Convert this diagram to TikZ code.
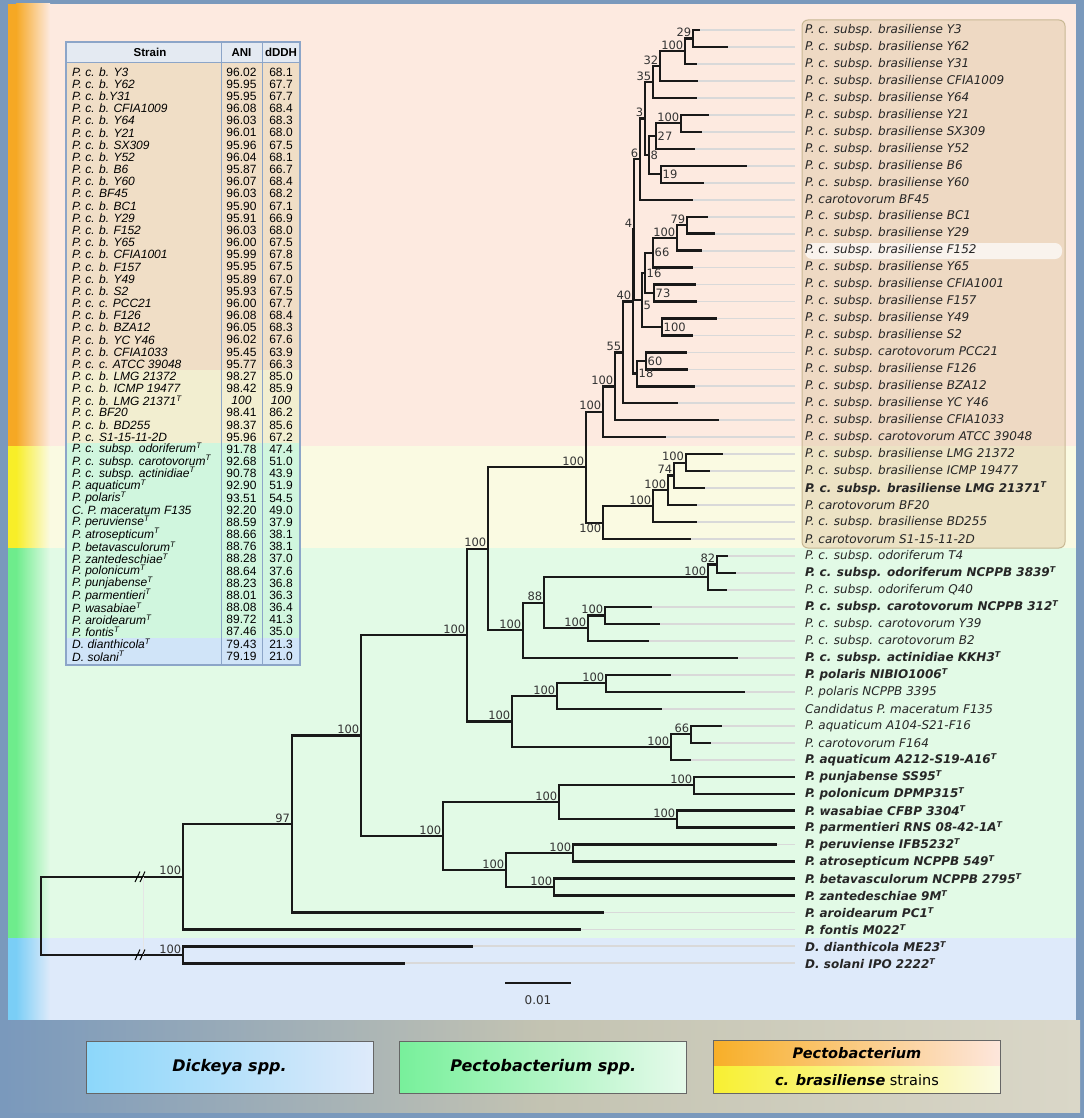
\documentclass[tikz,border=0pt]{standalone}
\usepackage{fontspec}
\setsansfont{DejaVu Sans}
\newfontfamily\tabfont{Liberation Sans}
\usepackage{tikz}
\usetikzlibrary{positioning}
\definecolor{frameblue}{RGB}{122,153,188}
\definecolor{bandpink}{RGB}{253,234,224}
\definecolor{bandyel}{RGB}{250,250,226}
\definecolor{bandgrn}{RGB}{226,250,230}
\definecolor{bandblu}{RGB}{222,234,250}
\definecolor{stripeor}{RGB}{246,168,36}
\definecolor{stripeye}{RGB}{248,238,40}
\definecolor{stripegr}{RGB}{110,236,140}
\definecolor{stripebl}{RGB}{122,206,246}
\definecolor{boxtan}{RGB}{220,198,160}
\definecolor{boxedge}{RGB}{200,184,148}
\definecolor{tabhead}{RGB}{228,234,242}
\definecolor{tabtan}{RGB}{240,222,198}
\definecolor{tabyel}{RGB}{242,238,208}
\definecolor{tabgrn}{RGB}{208,246,222}
\definecolor{tabblu}{RGB}{208,228,248}
\definecolor{tabline}{RGB}{140,165,200}
\definecolor{legA}{RGB}{140,215,250}
\definecolor{legB}{RGB}{222,234,250}
\definecolor{legC}{RGB}{120,240,155}
\definecolor{legD}{RGB}{230,250,235}
\definecolor{legE}{RGB}{248,175,40}
\definecolor{legF}{RGB}{253,230,220}
\definecolor{legG}{RGB}{248,240,50}
\definecolor{legH}{RGB}{250,250,225}
\newcommand\legfont{\sffamily\bfseries\itshape\fontsize{16}{19}\selectfont}
\tikzset{br/.style={line width=2.3pt,black!90},
  leader/.style={line width=1.8pt,black!15},
  leaf/.style={anchor=west,inner sep=0pt,text=black!85,font=\sffamily\itshape\fontsize{12}{12}\selectfont},
  typeleaf/.style={leaf,font=\sffamily\bfseries\itshape\fontsize{12}{12}\selectfont},
  supp/.style={inner sep=1.5pt,text=black!80,font=\sffamily\fontsize{11.5}{11.5}\selectfont},
  tabtxt/.style={inner sep=0pt,font=\tabfont\itshape\fontsize{12}{12}\selectfont},
  tabnum/.style={inner sep=0pt,font=\tabfont\fontsize{12}{12}\selectfont},
  tabhd/.style={inner sep=0pt,font=\tabfont\bfseries\fontsize{11.5}{11.5}\selectfont},
  legbox/.style={minimum width=287pt,minimum height=52pt,inner sep=0pt}}

\begin{document}
\begin{tikzpicture}[x=1pt,y=-1pt]
\useasboundingbox (0,0) rectangle (1084,1118);
\fill[frameblue] (0,0) rectangle (1084,1118);
% 背景色带
\fill[bandpink] (8,4) rectangle (1076,446);
\fill[bandyel] (8,446) rectangle (1076,548);
\fill[bandgrn] (8,548) rectangle (1076,938);
\fill[bandblu] (8,938) rectangle (1076,1020);
\fill[stripeor] (8,4) rectangle (16,446);
\shade[left color=stripeor,right color=bandpink] (16,4) rectangle (50,446);
\fill[stripeye] (8,446) rectangle (16,548);
\shade[left color=stripeye,right color=bandyel] (16,446) rectangle (50,548);
\fill[stripegr] (8,548) rectangle (16,938);
\shade[left color=stripegr,right color=bandgrn] (16,548) rectangle (50,938);
\fill[stripebl] (8,938) rectangle (16,1020);
\shade[left color=stripebl,right color=bandblu] (16,938) rectangle (50,1020);
\shade[left color=frameblue,right color={rgb,255:red,218;green,215;blue,200},middle color={rgb,255:red,195;green,195;blue,178}] (4,1020) rectangle (1080,1112);

% 标签框
\fill[boxtan,opacity=0.45,rounded corners=6pt] (802,20) rectangle (1065,548);
\draw[boxedge,line width=1pt,rounded corners=6pt] (802,20) rectangle (1065,548);
\fill[white,opacity=0.7,rounded corners=7pt] (805,243) rectangle (1062,259);

% 叶子
\foreach \i/\tx/\lab in {0/700/P. c. subsp. brasiliense Y3, 1/728/P. c. subsp. brasiliense Y62,
  2/697/P. c. subsp. brasiliense Y31, 3/698/P. c. subsp. brasiliense CFIA1009,
  4/697/P. c. subsp. brasiliense Y64, 5/709/P. c. subsp. brasiliense Y21,
  6/702/P. c. subsp. brasiliense SX309, 7/695/P. c. subsp. brasiliense Y52,
  8/747/P. c. subsp. brasiliense B6, 9/704/P. c. subsp. brasiliense Y60,
  10/693/P. carotovorum BF45, 11/708/P. c. subsp. brasiliense BC1,
  12/715/P. c. subsp. brasiliense Y29, 13/702/P. c. subsp. brasiliense F152,
  14/693/P. c. subsp. brasiliense Y65, 15/696/P. c. subsp. brasiliense CFIA1001,
  16/697/P. c. subsp. brasiliense F157, 17/717/P. c. subsp. brasiliense Y49,
  18/693/P. c. subsp. brasiliense S2, 19/687/P. c. subsp. carotovorum PCC21,
  20/688/P. c. subsp. brasiliense F126, 21/695/P. c. subsp. brasiliense BZA12,
  22/678/P. c. subsp. brasiliense YC Y46, 23/719/P. c. subsp. brasiliense CFIA1033,
  24/666/P. c. subsp. carotovorum ATCC 39048, 25/723/P. c. subsp. brasiliense LMG 21372,
  26/710/P. c. subsp. brasiliense ICMP 19477, 28/697/P. carotovorum BF20,
  29/697/P. c. subsp. brasiliense BD255, 30/691/P. carotovorum S1-15-11-2D,
  31/728/P. c. subsp. odoriferum T4, 33/727/P. c. subsp. odoriferum Q40,
  35/660/P. c. subsp. carotovorum Y39, 36/649/P. c. subsp. carotovorum B2,
  39/745/P. polaris NCPPB 3395, 40/662/Candidatus P. maceratum F135,
  41/722/P. aquaticum A104-S21-F16, 42/711/P. carotovorum F164}{
  \pgfmathsetmacro\yy{30+16.97*\i}
  \coordinate (t\i) at (\tx,\yy);
  \coordinate (e\i) at (795,\yy);
  \draw[leader] (t\i) -- (e\i);
  \node[leaf] (s\i) at (805,\yy) {\lab};
}
\foreach \i/\tx/\lab in {27/705/P. c. subsp. brasiliense LMG 21371,
  32/736/P. c. subsp. odoriferum NCPPB 3839, 34/652/P. c. subsp. carotovorum NCPPB 312,
  37/738/P. c. subsp. actinidiae KKH3, 38/671/P. polaris NIBIO1006,
  43/691/P. aquaticum A212-S19-A16, 44/795/P. punjabense SS95,
  45/795/P. polonicum DPMP315, 46/795/P. wasabiae CFBP 3304,
  47/795/P. parmentieri RNS 08-42-1A, 48/777/P. peruviense IFB5232,
  49/795/P. atrosepticum NCPPB 549, 50/795/P. betavasculorum NCPPB 2795,
  51/795/P. zantedeschiae 9M, 52/604/P. aroidearum PC1, 53/581/P. fontis M022,
  54/473/D. dianthicola ME23, 55/405/D. solani IPO 2222}{
  \pgfmathsetmacro\yy{30+16.97*\i}
  \coordinate (t\i) at (\tx,\yy);
  \coordinate (e\i) at (795,\yy);
  \draw[leader] (t\i) -- (e\i);
  \node[typeleaf] (s\i) at (805,\yy) {\lab\textsuperscript{T}};
}

% 内部节点
\coordinate (n29) at (693,38.5);
\coordinate (nA) at (685,51.2);
\coordinate (n32) at (660,66.1);
\coordinate (n35) at (653,82.0);
\coordinate (nB) at (681,123.3);
\coordinate (n27) at (656,136.1);
\coordinate (n19) at (661,174.2);
\coordinate (n8) at (649,155.2);
\coordinate (n3) at (645,118.6);
\coordinate (n6) at (640,159.1);
\coordinate (n79) at (687,225.2);
\coordinate (nC) at (677,237.9);
\coordinate (n66a) at (653,252.7);
\coordinate (n73) at (654,293.0);
\coordinate (n16) at (645,272.9);
\coordinate (nD) at (662,327.0);
\coordinate (n5) at (642,300.0);
\coordinate (n4) at (634,229.6);
\coordinate (n60) at (646,360.9);
\coordinate (n18) at (637,373.6);
\coordinate (n40) at (633,301.6);
\coordinate (n55) at (623,352.5);
\coordinate (n615) at (615,386.4);
\coordinate (n603) at (603,411.8);
\coordinate (n685) at (685.7,462.7);
\coordinate (n74) at (674,475.5);
\coordinate (n668) at (668,490.3);
\coordinate (n653) at (653,506.2);
\coordinate (nLMG) at (603,522.7);
\coordinate (n586) at (586,467.2);
\coordinate (n82) at (717,564.6);
\coordinate (nOd) at (708,577.3);
\coordinate (n605) at (605,615.5);
\coordinate (nCar) at (588,628.2);
\coordinate (n88) at (544,602.7);
\coordinate (n523) at (523,630.3);
\coordinate (n488) at (488,548.8);
\coordinate (nNI) at (606,683.3);
\coordinate (n557) at (557,696.1);
\coordinate (n66b) at (691,734.3);
\coordinate (n671) at (671,747.0);
\coordinate (n512) at (512,721.5);
\coordinate (n467) at (467,635.2);
\coordinate (n694) at (694,785.2);
\coordinate (n677) at (677,819.1);
\coordinate (n559) at (559,802.1);
\coordinate (n573) at (573,853.0);
\coordinate (n554) at (554,887.0);
\coordinate (n506) at (506,870.0);
\coordinate (n443) at (443,836.1);
\coordinate (n361) at (361,735.6);
\coordinate (n97) at (291.7,824.0);
\coordinate (n183) at (183,876.7);
\coordinate (nDk) at (183,954.9);
\coordinate (root) at (40.7,915.8);

% 画树枝
\foreach \p/\c in {n29/t0, n29/t1, nA/n29, nA/t2, n32/nA, n32/t3, n35/n32, n35/t4,
  nB/t5, nB/t6, n27/nB, n27/t7, n19/t8, n19/t9, n8/n27, n8/n19, n3/n35, n3/n8,
  n6/n3, n6/t10, n79/t11, n79/t12, nC/n79, nC/t13, n66a/nC, n66a/t14,
  n73/t15, n73/t16, n16/n66a, n16/n73, nD/t17, nD/t18, n5/n16, n5/nD,
  n4/n6, n4/n5, n60/t19, n60/t20, n18/n60, n18/t21, n40/n4, n40/n18,
  n55/n40, n55/t22, n615/n55, n615/t23, n603/n615, n603/t24,
  n685/t25, n685/t26, n74/n685, n74/t27, n668/n74, n668/t28, n653/n668, n653/t29,
  nLMG/n653, nLMG/t30, n586/n603, n586/nLMG,
  n82/t31, n82/t32, nOd/n82, nOd/t33, n605/t34, n605/t35, nCar/n605, nCar/t36,
  n88/nOd, n88/nCar, n523/n88, n523/t37, n488/n586, n488/n523,
  nNI/t38, nNI/t39, n557/nNI, n557/t40, n66b/t41, n66b/t42, n671/n66b, n671/t43,
  n512/n557, n512/n671, n467/n488, n467/n512,
  n694/t44, n694/t45, n677/t46, n677/t47, n559/n694, n559/n677,
  n573/t48, n573/t49, n554/t50, n554/t51, n506/n573, n506/n554,
  n443/n559, n443/n506, n361/n467, n361/n443, n97/n361, n97/t52,
  n183/n97, n183/t53, nDk/t54, nDk/t55, root/n183, root/nDk}
  \draw[br] (\p) |- (\c);

% 支持率
\foreach \n/\t in {n29/29, nA/100, n32/32, n35/35, nB/100, n3/3, n6/6, n79/79, nC/100,
  n4/4, n40/40, n55/55, n615/100, n603/100, n586/100, n685/100, n74/74, n668/100,
  n653/100, n488/100, n82/82, nOd/100, n88/88, n523/100, n605/100, nCar/100,
  nNI/100, n557/100, n66b/66, n671/100, n512/100, n467/100, n694/100, n677/100,
  n559/100, n573/100, n554/100, n506/100, n443/100, n361/100, n97/97, n183/100, nDk/100}
  \node[supp,anchor=south east] (l\n) at (\n) {\t};
\foreach \n/\t in {n27/27, n8/8, n19/19, n66a/66, n16/16, n73/73, nD/100, n60/60, n18/18}
  \node[supp,anchor=west] (l\n) at (\n) {\t};
\node[supp,anchor=west] (ln5) at ([yshift=-5pt]n5) {5};
\node[supp,anchor=north east] (lnLMG) at (nLMG) {100};

% 断开符号
\draw[black!10,line width=0.8pt] (143,877) -- (143,955);
\draw[line width=1pt] (135,882) -- (140,871.5) (140,882) -- (145,871.5);
\draw[line width=1pt] (135,960) -- (140,949.5) (140,960) -- (145,949.5);

% 标尺
\coordinate (sbA) at (505,983.3);
\coordinate (sbB) at (571,983.3);
\draw[br,line width=2pt] (sbA) -- (sbB);
\node[supp,font=\sffamily\fontsize{12}{12}\selectfont] (sbl) at (538,1000) {0.01};

% 表格
\fill[tabhead] (66,42) rectangle (300,62.5);
\fill[tabtan] (66,62.5) rectangle (300,370.2);
\fill[tabyel] (66,370.2) rectangle (300,443.2);
\fill[tabgrn] (66,443.2) rectangle (300,637.9);
\fill[tabblu] (66,637.9) rectangle (300,665);
\draw[tabline,line width=1.2pt] (66,42) rectangle (300,665);
\draw[tabline,line width=1pt] (221,42) -- (221,665) (262,42) -- (262,665) (66,62.5) -- (300,62.5);
\node[tabhd] (hs) at (150,52.5) {Strain};
\node[tabhd] (ha) at (241.5,52.5) {ANI};
\node[tabhd] (hd) at (281,52.5) {dDDH};
\foreach \s/\a/\d [count=\i from 0] in {P. c. b. Y3/96.02/68.1, P. c. b. Y62/95.95/67.7,
  P. c. b.Y31/95.95/67.7, P. c. b. CFIA1009/96.08/68.4, P. c. b. Y64/96.03/68.3,
  P. c. b. Y21/96.01/68.0, P. c. b. SX309/95.96/67.5, P. c. b. Y52/96.04/68.1,
  P. c. b. B6/95.87/66.7, P. c. b. Y60/96.07/68.4, P. c. BF45/96.03/68.2,
  P. c. b. BC1/95.90/67.1, P. c. b. Y29/95.91/66.9, P. c. b. F152/96.03/68.0,
  P. c. b. Y65/96.00/67.5, P. c. b. CFIA1001/95.99/67.8, P. c. b. F157/95.95/67.5,
  P. c. b. Y49/95.89/67.0, P. c. b. S2/95.93/67.5, P. c. c. PCC21/96.00/67.7,
  P. c. b. F126/96.08/68.4, P. c. b. BZA12/96.05/68.3, P. c. b. YC Y46/96.02/67.6,
  P. c. b. CFIA1033/95.45/63.9, P. c. c. ATCC 39048/95.77/66.3,
  P. c. b. LMG 21372/98.27/85.0, P. c. b. ICMP 19477/98.42/85.9,
  P. c. b. LMG 21371\textsuperscript{T}/\textit{100}/\textit{100},
  P. c. BF20/98.41/86.2, P. c. b. BD255/98.37/85.6, P. c. S1-15-11-2D/95.96/67.2,
  P. c. subsp. odoriferum\textsuperscript{T}/91.78/47.4,
  P. c. subsp. carotovorum\textsuperscript{T}/92.68/51.0,
  P. c. subsp. actinidiae\textsuperscript{T}/90.78/43.9,
  P. aquaticum\textsuperscript{T}/92.90/51.9, P. polaris\textsuperscript{T}/93.51/54.5,
  C. P. maceratum F135/92.20/49.0, P. peruviense\textsuperscript{T}/88.59/37.9,
  P. atrosepticum\textsuperscript{T}/88.66/38.1, P. betavasculorum\textsuperscript{T}/88.76/38.1,
  P. zantedeschiae\textsuperscript{T}/88.28/37.0, P. polonicum\textsuperscript{T}/88.64/37.6,
  P. punjabense\textsuperscript{T}/88.23/36.8, P. parmentieri\textsuperscript{T}/88.01/36.3,
  P. wasabiae\textsuperscript{T}/88.08/36.4, P. aroidearum\textsuperscript{T}/89.72/41.3,
  P. fontis\textsuperscript{T}/87.46/35.0, D. dianthicola\textsuperscript{T}/79.43/21.3,
  D. solani\textsuperscript{T}/79.19/21.0}{
  \pgfmathsetmacro\ry{72+12.17*\i}
  \node[tabtxt,anchor=west] (r\i) at (72,\ry) {\s};
  \node[tabnum] (a\i) at (241.5,\ry) {\a};
  \node[tabnum] (d\i) at (281,\ry) {\d};
}

% 图例
\node[legbox,shade,left color=legA,right color=legB,draw=black!60,line width=0.8pt] (dick) at (229.5,1067) {\legfont Dickeya spp.};
\node[legbox,shade,left color=legC,right color=legD,draw=black!60,line width=0.8pt,right=26pt of dick] (pect) {\legfont Pectobacterium spp.};
\node[legbox,minimum height=25pt,shade,left color=legE,right color=legF,anchor=north west] (pecA) at ([xshift=26pt]pect.north east) {\legfont\fontsize{14.5}{17}\selectfont Pectobacterium};
\node[legbox,minimum height=27pt,shade,left color=legG,right color=legH,below=0pt of pecA] (pecB) {\sffamily\fontsize{14.5}{17}\selectfont\textbf{\textit{c. brasiliense}} strains};
\draw[black!60,line width=0.8pt] (pecA.north west) rectangle (pecB.south east);
\end{tikzpicture}
\end{document}
